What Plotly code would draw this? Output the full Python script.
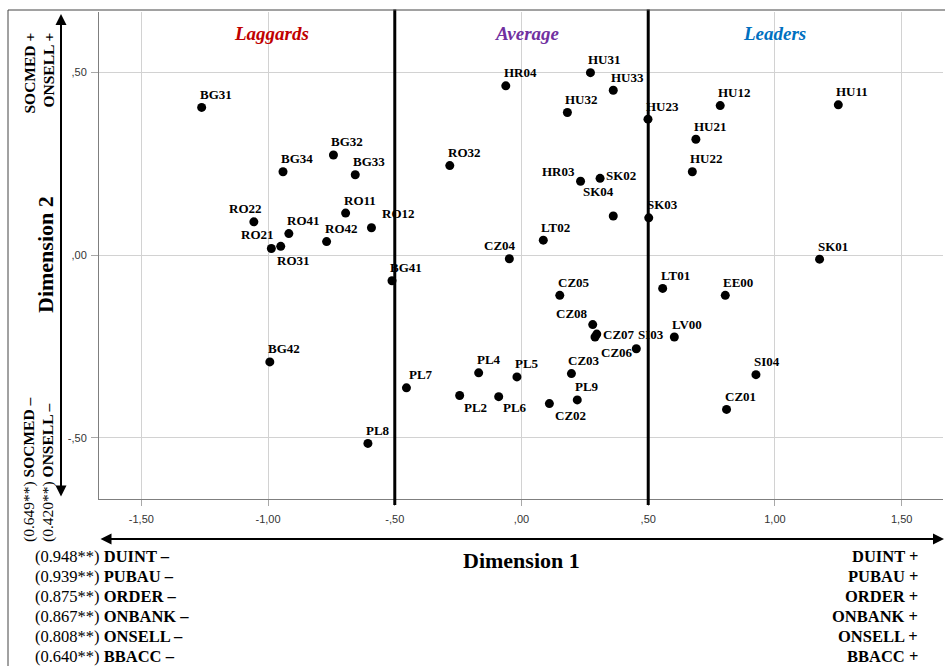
import plotly.graph_objects as go

# ---------------- data ----------------
regions = ["BG31", "BG32", "BG34", "BG33", "RO32", "RO22", "RO11", "RO12", "RO41", "RO42",
           "RO21", "RO31", "BG41", "BG42", "PL7", "PL2", "PL8", "PL4", "PL6", "PL5",
           "CZ02", "PL9", "CZ03", "CZ06", "CZ07", "CZ08", "SI03", "CZ05", "LV00", "LT01",
           "EE00", "SI04", "CZ01", "CZ04", "LT02", "SK01", "SK03", "SK04", "HR03", "SK02",
           "HU22", "HU21", "HU23", "HU12", "HU11", "HU32", "HU33", "HU31", "HR04"]
dim1 = [-1.262, -0.742, -0.941, -0.656, -0.283, -1.056, -0.694, -0.592, -0.918, -0.769,
        -0.987, -0.950, -0.511, -0.993, -0.454, -0.244, -0.606, -0.169, -0.090, -0.018,
        0.110, 0.220, 0.197, 0.290, 0.297, 0.281, 0.453, 0.151, 0.603, 0.557,
        0.804, 0.925, 0.809, -0.048, 0.086, 1.176, 0.502, 0.362, 0.233, 0.310,
        0.674, 0.688, 0.499, 0.784, 1.250, 0.181, 0.362, 0.272, -0.062]
dim2 = [0.404, 0.274, 0.228, 0.220, 0.245, 0.091, 0.115, 0.075, 0.059, 0.037,
        0.018, 0.024, -0.070, -0.292, -0.363, -0.384, -0.515, -0.322, -0.387, -0.333,
        -0.406, -0.396, -0.324, -0.224, -0.216, -0.190, -0.256, -0.110, -0.224, -0.091,
        -0.110, -0.327, -0.422, -0.010, 0.041, -0.011, 0.102, 0.107, 0.202, 0.210,
        0.228, 0.317, 0.372, 0.409, 0.411, 0.390, 0.451, 0.499, 0.463]

x_tickvals = [-1.5, -1.0, -0.5, 0.0, 0.5, 1.0, 1.5]
x_ticktext = ["-1,50", "-1,00", "-,50", ",00", ",50", "1,00", "1,50"]
y_tickvals = [-0.5, 0.0, 0.5]
y_ticktext = ["-,50", ",00", ",50"]

group_names = ["Laggards", "Average", "Leaders"]
group_centers = [-0.985, 0.025, 1.0]
group_colors = ["#C00000", "#7030A0", "#0070C0"]
cut_points = [-0.5, 0.5]

dim1_vars = ["DUINT", "PUBAU", "ORDER", "ONBANK", "ONSELL", "BBACC"]
dim1_loads = ["0.948", "0.939", "0.875", "0.867", "0.808", "0.640"]
dim2_vars = ["SOCMED", "ONSELL"]
dim2_loads = ["0.649", "0.420"]

# ---------------- styles ----------------
W, H = 945, 666
ML, MR, MT, MB = 99, 2, 12, 167
PW, PH = W - ML - MR, H - MT - MB


def px(xp):
    return (xp - ML) / PW


def py(yp):
    return (H - MB - yp) / PH


SERIF = "Liberation Serif, Times New Roman, serif"
SANS = "Liberation Sans, Arial, sans-serif"

# label placement overrides: (xanchor, xshift, yshift)
default_pos = ("left", -4, 13)
label_pos = {
    "RO21": ("right", 5, 14),
    "RO31": ("left", -6, -14),
    "RO22": ("center", -8, 13),
    "RO12": ("left", 9, 14),
    "PL7": ("left", 1, 13),
    "PL2": ("left", 2, -12),
    "PL6": ("left", 2, -11),
    "CZ02": ("left", 4, -12),
    "CZ08": ("right", -3, 11),
    "CZ07": ("left", 4, 0),
    "SI03": ("left", 0, 14),
    "CZ06": ("left", 4, -15),
    "CZ04": ("right", 9, 13),
    "SK04": ("right", 3, 25),
    "HR03": ("right", -4, 10),
    "SK02": ("left", 4, 3),
    "CZ03": ("left", -5, 13),
}

fig = go.Figure()
fig.add_trace(go.Scatter(
    x=dim1, y=dim2, mode="markers",
    marker=dict(size=9, color="black"),
    hoverinfo="text", text=regions, showlegend=False,
))

annotations = []
for name, xv, yv in zip(regions, dim1, dim2):
    xa, xs, ys = label_pos.get(name, default_pos)
    annotations.append(dict(
        x=xv, y=yv, xref="x", yref="y", text=name, showarrow=False,
        xanchor=xa, yanchor="middle", xshift=xs, yshift=ys,
        font=dict(family=SERIF, size=13, color="black", weight="bold"),
    ))

for g, c, col in zip(group_names, group_centers, group_colors):
    annotations.append(dict(
        x=c, y=py(33), xref="x", yref="paper", text=f"<b><i>{g}</i></b>",
        showarrow=False, xanchor="center", yanchor="middle",
        font=dict(family=SERIF, size=19, color=col),
    ))

# axis titles
annotations.append(dict(x=px(521), y=py(560), xref="paper", yref="paper",
                        text="<b>Dimension 1</b>", showarrow=False,
                        xanchor="center", yanchor="middle",
                        font=dict(family=SERIF, size=22, color="black")))
annotations.append(dict(x=px(45), y=py(255), xref="paper", yref="paper",
                        text="<b>Dimension 2</b>", showarrow=False, textangle=-90,
                        xanchor="center", yanchor="middle",
                        font=dict(family=SERIF, size=22, color="black")))

# dimension 2 variable labels
for i, (v, ld) in enumerate(zip(dim2_vars, dim2_loads)):
    xpix = 29 + 19 * i
    annotations.append(dict(x=px(xpix), y=py(31), xref="paper", yref="paper",
                            text=f"<b>{v} +</b>", showarrow=False, textangle=-90,
                            xanchor="center", yanchor="top",
                            font=dict(family=SERIF, size=15.5, color="black")))
    annotations.append(dict(x=px(xpix), y=py(544), xref="paper", yref="paper",
                            text=f"({ld}**) <b>{v} –</b>", showarrow=False, textangle=-90,
                            xanchor="center", yanchor="bottom",
                            font=dict(family=SERIF, size=15.5, color="black")))

# dimension 1 variable labels
for i, (v, ld) in enumerate(zip(dim1_vars, dim1_loads)):
    ypix = 556 + 20 * i
    annotations.append(dict(x=px(33), y=py(ypix), xref="paper", yref="paper",
                            text=f"({ld}**) <b>{v} –</b>", showarrow=False,
                            xanchor="left", yanchor="middle",
                            font=dict(family=SERIF, size=16.5, color="black")))
    annotations.append(dict(x=px(920), y=py(ypix), xref="paper", yref="paper",
                            text=f"<b>{v} +</b>", showarrow=False,
                            xanchor="right", yanchor="middle",
                            font=dict(family=SERIF, size=16.5, color="black")))

# double-headed arrows
annotations.append(dict(x=px(61), y=py(14), xref="paper", yref="paper", text="",
                        showarrow=True, ax=0, ay=484, axref="pixel", ayref="pixel",
                        arrowside="end+start", arrowhead=2, startarrowhead=2,
                        arrowsize=1.1, startarrowsize=1.1, arrowwidth=2, arrowcolor="black"))
annotations.append(dict(x=px(945), y=py(539), xref="paper", yref="paper", text="",
                        showarrow=True, ax=-846, ay=0, axref="pixel", ayref="pixel",
                        arrowside="end+start", arrowhead=2, startarrowhead=2,
                        arrowsize=1.1, startarrowsize=1.1, arrowwidth=2, arrowcolor="black"))

shapes = []
for cp in cut_points:
    shapes.append(dict(type="line", xref="x", yref="paper", x0=cp, x1=cp,
                       y0=-6 / PH, y1=1.005, line=dict(color="black", width=3)))
# outer frame
shapes.append(dict(type="rect", xref="paper", yref="paper",
                   x0=px(8), x1=px(960), y0=py(700), y1=py(10),
                   line=dict(color="#444444", width=1), fillcolor="rgba(0,0,0,0)"))

fig.update_layout(
    width=W, height=H,
    margin=dict(l=ML, r=MR, t=MT, b=MB, pad=0),
    plot_bgcolor="white", paper_bgcolor="white",
    annotations=annotations, shapes=shapes,
    xaxis=dict(range=[-1.667, 1.663], tickvals=x_tickvals, ticktext=x_ticktext,
               showgrid=True, gridcolor="#d2d2d2", gridwidth=1, zeroline=False,
               showline=True, linecolor="#7f7f7f", linewidth=1,
               ticks="outside", ticklen=6, tickcolor="#a8a8a8",
               ticklabelstandoff=4,
               tickfont=dict(family=SANS, size=11, color="#333333")),
    yaxis=dict(range=[-0.667, 0.665], tickvals=y_tickvals, ticktext=y_ticktext,
               showgrid=True, gridcolor="#d2d2d2", gridwidth=1, zeroline=False,
               showline=True, linecolor="#7f7f7f", linewidth=1,
               ticks="outside", ticklen=7, tickcolor="#a8a8a8",
               ticklabelstandoff=2,
               tickfont=dict(family=SANS, size=11, color="#333333")),
    hovermode="closest",
)

fig.write_html(
    "out.html",
    config={"displayModeBar": False},
    post_script="document.body.style.margin='0';document.body.style.padding='0';"
                "document.documentElement.style.overflow='hidden';",
)
